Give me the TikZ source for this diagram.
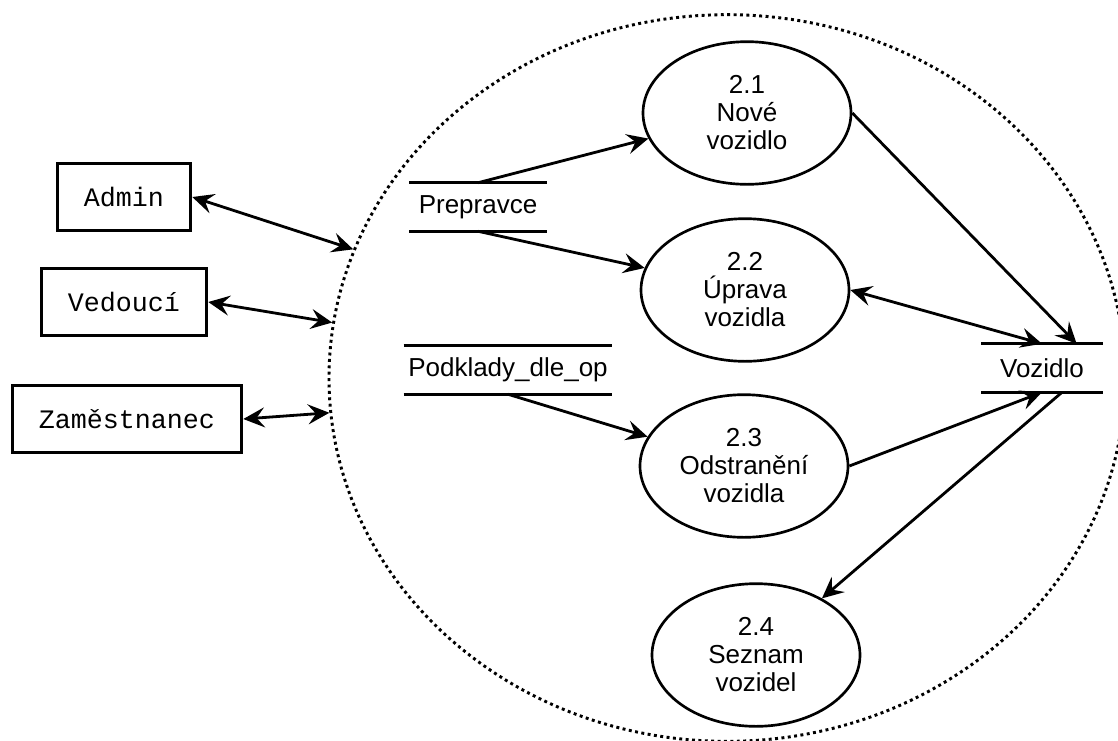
\documentclass[tikz,border=0pt]{standalone}
\usepackage{fontspec}
\setmainfont{Liberation Sans}
\setmonofont{Liberation Mono}
\usetikzlibrary{shapes.geometric, arrows.meta, positioning}

\begin{document}
\begin{tikzpicture}[x=0.75pt, y=-0.75pt]
    % Define styles
    \tikzstyle{actor} = [rectangle, draw, line width=2.4pt, minimum height=50pt, inner xsep=20pt, font=\fontsize{20}{24}\selectfont\ttfamily]
    \tikzstyle{process} = [ellipse, draw, line width=2pt, minimum width=156pt, minimum height=107pt, align=center, font=\fontsize{19.5}{21}\selectfont]
    \tikzstyle{store} = [rectangle, minimum height=36pt, inner xsep=0pt, font=\fontsize{19.5}{23}\selectfont]
    \tikzstyle{storeline} = [line width=2.3pt]
    \tikzstyle{boundary} = [ellipse, draw, line width=2.2pt, dash pattern=on 2.2pt off 2.6pt, minimum width=597pt, minimum height=545pt, inner sep=0pt]
    \tikzstyle{arrow} = [-{Stealth[length=16pt, width=15pt, inset=6pt]}, line width=2.1pt]
    \tikzstyle{biarrow} = [{Stealth[length=16pt, width=15pt, inset=6pt]}-{Stealth[length=16pt, width=15pt, inset=6pt]}, line width=2.1pt]

    \useasboundingbox (0,0) rectangle (1118,740);

    % Subsystem boundary
    \node[boundary] (subsystem) at (727,378) {};

    % External entities
    \node[actor] (admin) at (124,197) {Admin};
    \node[actor] (vedouci) at (124,302) {Vedoucí};
    \node[actor] (zamestnanec) at (127,419) {Zaměstnanec};

    % Processes
    \node[process] (p21) at (747,113) {2.1\\Nové\\vozidlo};
    \node[process] (p22) at (745,290) {2.2\\Úprava\\vozidla};
    \node[process] (p23) at (744,466) {2.3\\Odstranění\\vozidla};
    \node[process] (p24) at (756,655) {2.4\\Seznam\\vozidel};

    % Data stores
    \node[store, minimum width=103pt] (prepravce) at (478,207) {Prepravce};
    \node[store, minimum width=156pt] (podklady) at (508,370) {Podklady\_dle\_op};
    \node[store, minimum width=91pt] (vozidlo) at (1042,368) {Vozidlo};
    \foreach \s in {prepravce, podklady, vozidlo} {
        \draw[storeline] (\s.north west) -- (\s.north east);
        \draw[storeline] (\s.south west) -- (\s.south east);
    }

    % Flows - external entities
    \draw[biarrow] (admin.east) -- (subsystem.161);
    \draw[biarrow] (vedouci.east) -- (subsystem.172);
    \draw[biarrow] (zamestnanec.east) -- (subsystem.185);

    % Flows - stores to processes
    \draw[arrow] (prepravce.north) -- (p21);
    \draw[arrow] (prepravce.south) -- (p22);
    \draw[arrow] (podklady.south) -- (p23);

    % Flows - Vozidlo
    \draw[arrow] (p21.east) -- ([xshift=26pt]vozidlo.north);
    \draw[biarrow] (p22.east) -- (vozidlo.north);
    \draw[arrow] (p23.east) -- (vozidlo.south);
    \draw[arrow] ([xshift=15pt]vozidlo.south) -- (p24);

\end{tikzpicture}
\end{document}
